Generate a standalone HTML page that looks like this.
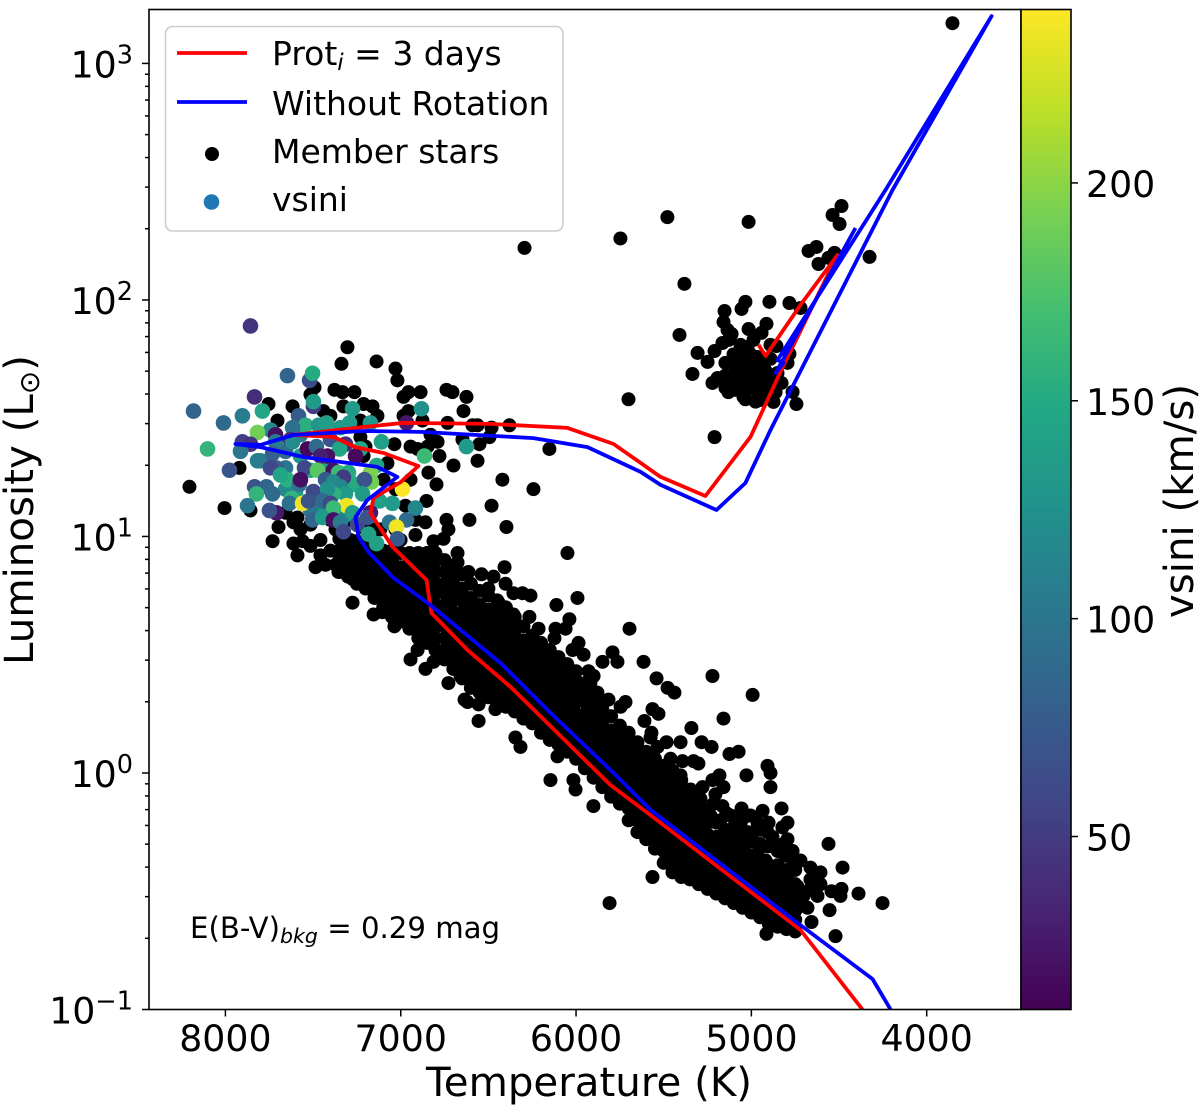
<!DOCTYPE html>
<html lang="en">
<head>
<meta charset="utf-8">
<title>HR diagram with vsini</title>
<style>
html,body{margin:0;padding:0;background:#fff;width:1200px;height:1110px;overflow:hidden}
svg{display:block;font-family:"DejaVu Sans","Liberation Sans",sans-serif;fill:#000}
</style>
</head>
<body>
<svg id="chart" xmlns="http://www.w3.org/2000/svg" width="1200" height="1110" viewBox="0 0 1200 1110">
<defs>
<clipPath id="plot-clip"><rect x="149" y="9.5" width="872" height="1000"/></clipPath>
<linearGradient id="viridis-gradient" x1="0" y1="1" x2="0" y2="0"></linearGradient>
</defs>
<g id="members" clip-path="url(#plot-clip)"></g>
<g id="vsini" clip-path="url(#plot-clip)"></g>
<g id="tracks" clip-path="url(#plot-clip)"></g>
<rect x="149" y="9.5" width="872" height="1000" fill="none" stroke="#000" stroke-width="1.6"/>
<g id="axes"></g>
<text x="589" y="1096" font-size="40.3" text-anchor="middle">Temperature (K)</text>
<text transform="translate(33,510) rotate(-90)" font-size="40.3" text-anchor="middle">Luminosity (L<tspan font-size="28" dy="6">⊙</tspan><tspan dy="-6">)</tspan></text>
<text x="190" y="938" font-size="29.2">E(B-V)<tspan font-size="20.5" font-style="italic" dy="5">bkg</tspan><tspan dy="-5"> = 0.29 mag</tspan></text>
<rect x="1021" y="9.5" width="50" height="1000" fill="url(#viridis-gradient)" stroke="#000" stroke-width="1.6"/>
<text transform="translate(1193,501) rotate(-90)" font-size="40.3" text-anchor="middle">vsini (km/s)</text>
<g>
<rect x="165.5" y="26.5" width="397.5" height="204.5" rx="7" fill="#fff" fill-opacity="0.8" stroke="#ccc" stroke-width="1.6"/>
<line x1="177" x2="247" y1="53" y2="53" stroke="#f00" stroke-width="3.8"/>
<text x="272" y="65" font-size="33">Prot<tspan font-size="23" font-style="italic" dy="5">i</tspan><tspan dy="-5"> = 3 days</tspan></text>
<line x1="177" x2="247" y1="102" y2="102" stroke="#00f" stroke-width="3.8"/>
<text x="272" y="115" font-size="33">Without Rotation</text>
<circle cx="212" cy="154" r="7" fill="#000"/>
<text x="272" y="163" font-size="33">Member stars</text>
<circle cx="211.5" cy="202" r="7.8" fill="#1f77b4"/>
<text x="272" y="211" font-size="33">vsini</text>
</g>
</svg>
<script>
const xTickValues = [8000, 7000, 6000, 5000, 4000];
const yTickDecades = [-1, 0, 1, 2, 3];
const yMinorFactors = [2, 3, 4, 5, 6, 7, 8, 9];
const colorbarTickValues = [50, 100, 150, 200];
const viridisColors = ["#440154","#482475","#414487","#355f8d","#2a788e","#21918c","#22a884","#44bf70","#7ad151","#bddf26","#fde725"];
const tempDomain = [8433, 3465];
const logLDomain = [-1, 3.228];
const vsiniDomain = [10.3, 239.8];

// Temperature (K), log10 luminosity for the rotating track
const rotatingTrack = [[4366,-1],[4720,-.664],[5615,-.156],[5804,-.051],[6374,.364],[6619,.52],[6825,.677],[6853,.816],[7047,.956],[7173,1.099],[7155,1.163],[7001,1.23],[6899,1.298],[7098,1.353],[7258,1.378],[7384,1.421],[7612,1.429],[7212,1.463],[6984,1.48],[6488,1.476],[6049,1.459],[5786,1.391],[5518,1.252],[5262,1.171],[5005,1.421],[4834,1.696],[4509,2.19],[4720,1.979],[4919,1.763],[4959,1.81]];
// Temperature (K), log10 luminosity for the non-rotating track
const noRotationTrack = [[4206,-1],[4309,-.871],[4720,-.643],[5575,-.156],[5786,0],[6146,.254],[6431,.465],[6659,.605],[6830,.71],[7041,.825],[7184,.934],[7241,.998],[7258,1.082],[7190,1.154],[7019,1.252],[7133,1.294],[7555,1.336],[7800,1.378],[7943,1.391],[7800,1.387],[7612,1.429],[7212,1.446],[6887,1.442],[6243,1.416],[5935,1.378],[5632,1.273],[5518,1.218],[5199,1.112],[5034,1.226],[4891,1.45],[4195,2.465],[3630,3.2],[4235,2.465],[4851,1.746],[4817,1.734],[4862,1.691],[4406,2.304]];

// Dense main-sequence stars: one temperature per column with its log10 luminosities
const bandTemps = [7350,7300,7250,7200,7150,7100,7050,7000,6950,6900,6850,6800,6750,6700,6650,6600,6550,6500,6450,6400,6350,6300,6250,6200,6150,6100,6050,6000,5950,5900,5850,5800,5750,5700,5650,5600,5550,5500,5450,5400,5350,5300,5250,5200,5150,5100,5050,5000,4950,4900,4850,4800,4750];
const bandLogL = [
[.85,.90,.94,.99],[.83,.87,.92,.97],[.80,.85,.90,.94,.98],[.78,.82,.87,.92,.96],[.74,.79,.84,.88,.93,.95],[.70,.75,.80,.84,.89,.94],[.66,.71,.76,.80,.85,.90,.94],[.64,.68,.73,.78,.82,.87,.93],[.61,.66,.70,.75,.80,.84,.89,.93],[.57,.62,.67,.71,.76,.81,.85,.90,.93],[.55,.60,.64,.69,.74,.78,.83,.88,.93],[.52,.57,.62,.66,.71,.76,.80,.85,.90,.92],
[.48,.52,.57,.62,.66,.71,.76,.80,.85,.90],[.44,.49,.54,.59,.63,.68,.73,.77,.82,.87],[.40,.45,.50,.54,.59,.64,.68,.73,.78,.84],[.36,.41,.46,.51,.55,.60,.65,.69,.74,.80],[.34,.38,.43,.48,.52,.57,.62,.66,.71,.77],[.32,.37,.41,.46,.51,.55,.60,.65,.69,.75],[.30,.35,.40,.44,.49,.54,.58,.63,.68,.73],[.28,.33,.38,.42,.47,.52,.56,.61,.66,.70],[.26,.30,.35,.40,.44,.49,.54,.58,.63,.66],[.23,.28,.33,.37,.42,.47,.51,.56,.62],[.21,.25,.30,.35,.39,.44,.49,.53,.58],[.17,.22,.27,.31,.36,.41,.45,.50,.55],[.14,.19,.24,.28,.33,.38,.42,.47,.52],[.12,.16,.21,.26,.30,.35,.40,.44,.49],[.09,.14,.19,.23,.28,.33,.37,.42,.46],[.06,.11,.16,.20,.25,.30,.34,.39,.43],[.02,.07,.11,.16,.21,.25,.30,.34,.38],[-.02,.03,.07,.12,.17,.21,.26,.31,.34],[-.06,-.01,.03,.08,.13,.17,.22,.27,.29],[-.10,-.05,-.01,.04,.09,.13,.18,.24],[-.13,-.08,-.03,.01,.06,.11,.15,.20],[-.20,-.15,-.10,-.05,-.01,.04,.09,.13,.17],[-.25,-.20,-.16,-.11,-.06,-.02,.03,.08,.13],[-.28,-.24,-.19,-.14,-.10,-.05,0,.05,.09],[-.32,-.27,-.23,-.18,-.13,-.09,-.04,.01,.06],[-.38,-.33,-.29,-.24,-.19,-.15,-.10,-.05,-.01,.03],[-.42,-.37,-.32,-.28,-.23,-.18,-.14,-.09,-.04,.01],[-.44,-.39,-.35,-.30,-.25,-.21,-.16,-.11,-.07,-.03],[-.45,-.41,-.36,-.31,-.27,-.22,-.17,-.13,-.08],[-.47,-.43,-.38,-.33,-.29,-.24,-.19,-.15,-.11],[-.49,-.44,-.40,-.35,-.30,-.26,-.21,-.17],[-.51,-.46,-.41,-.37,-.32,-.27,-.21],[-.53,-.48,-.44,-.39,-.34,-.29,-.24],[-.55,-.50,-.46,-.41,-.36,-.31,-.26],[-.57,-.53,-.48,-.43,-.38,-.33,-.28],[-.59,-.55,-.50,-.45,-.40,-.35,-.29],[-.61,-.57,-.52,-.47,-.42,-.37,-.30],[-.64,-.59,-.54,-.49,-.44,-.39,-.31],[-.65,-.60,-.55,-.50,-.45,-.40,-.33],[-.66,-.61,-.56,-.51,-.46,-.41,-.35],[-.67,-.62,-.57,-.52,-.47,-.41]];

// Individually resolved member stars: temperature (K), log10 luminosity
const memberStars = [[3853,3.17],[6294,2.22],[5747,2.26],[5479,2.35],[5016,2.33],[4486,2.397],[4537,2.359],[4497,2.321],[4326,2.182],[4629,2.224],[4674,2.207],[4617,2.152],[4560,2.178],[4526,2.199],[5382,2.068],[5410,1.852],[5307,1.776],[5250,1.738],[5336,1.687],[5034,1.992],[5056,1.962],[4897,1.992],[4783,1.987],[4720,1.966],[5153,1.953],[5159,1.907],[5136,1.873],[5113,1.856],[5165,1.818],[5130,1.831],[5210,1.784],[5016,1.877],[4914,1.899],[4942,1.861],[4988,1.831],[5022,1.801],[4857,1.805],[4783,1.772],[4891,1.751],[4794,1.734],[4851,1.691],[4828,1.649],[4765,1.611],[4743,1.56],[4874,1.569],[4948,1.577],[5045,1.59],[5148,1.628],[5222,1.649],[5193,1.67],[5148,1.734],[5079,1.725],[5022,1.734],[4965,1.717],[5062,1.674],[5005,1.674],[4948,1.662],[5079,1.632],[5005,1.628],[4908,1.619],[5108,1.653],[4965,1.759],[5045,1.759],[4880,1.662],[5210,1.42],[5701,1.58],
[5091,1.7],[5034,1.7],[4976,1.68],[4919,1.7],[5091,1.62],[5034,1.64],[4976,1.62],[4919,1.65],[4862,1.61],[5034,1.58],[4976,1.57],[4919,1.59],[5148,1.68],[5131,1.61],[4948,1.75],[5005,1.77],[5062,1.81],[5102,1.77],[4891,1.81],
[7304,1.8],[7338,1.73],[7138,1.74],[7030,1.71],[7019,1.66],[7754,1.56],[7617,1.55],[7703,1.49],[7492,1.63],[7515,1.6],[7378,1.62],[7332,1.61],[7264,1.61],[7212,1.56],[7161,1.55],[7327,1.55],[7441,1.53],[7401,1.51],[7230,1.49],[7133,1.51],[6956,1.61],[6887,1.61],[6984,1.59],[6739,1.62],[6705,1.61],[6625,1.59],[6642,1.53],[6956,1.53],[6984,1.51],[6876,1.49],[6733,1.48],[6591,1.47],[6562,1.47],[6482,1.46],[6380,1.47],[6494,1.42],[6551,1.39],[6648,1.41],[6152,1.37],[6830,1.43],[6790,1.4],[7230,1.42],[7201,1.38],[7036,1.39],[6944,1.38],[6904,1.37],[6847,1.38],[6779,1.34],[6699,1.3],[6562,1.32],[7076,1.31],[7212,1.34],[6842,1.27],[6796,1.22],[7098,1.24],[6944,1.24],[6420,1.24],[6243,1.2],[6853,1.15],[6482,1.13],[6608,1.07],[6397,1.04],[6859,1.06],[6739,1.07],[6728,1.03],[6049,.93],[6676,.93],[6756,.99],[6813,.98],[6802,.93],[6802,.9],[6408,.87],[6471,.83],[6539,.84],[6614,.85],[6676,.89],[6402,.8],[6500,.78],[6357,.76],[6306,.76],[6260,.75],[5992,.74],[6112,.71],
[7458,.985],[7372,1.03],[7287,.985],[7201,1.03],[7116,1.03],[7401,.94],[7315,.92],[7001,.985],[6916,1.006],[7458,.92],[7515,.96],[7572,1.03],[7429,.88],[7372,.88],[7287,.88],
[7920,1.29],[8205,1.21],[8005,1.12],[7857,1.11],[7697,1.04],[7612,1.06],[7731,.98],[7612,.97],[7560,.98],[7589,.92],[7486,.87],[7657,1.1],[7589,1.08],[7355,.85],[7275,.82],[7144,.77],[7275,.72],[7155,.67],[7104,.68],[7041,.66],[7036,.62],[6973,.7],[6950,.64],[6882,.57],[6904,.52],[6944,.48],[6802,.52],[6813,.47],[6859,.44],[6728,.38],[6659,.41],[6636,.31],[6619,.3],[6556,.29],[6460,.27],[6556,.22],[6346,.15],[6317,.11],[6146,-.03],[6015,-.03],[6003,-.07],[5901,-.14],[6106,.07],[7030,1.2],[6973,1.13],[6916,1.07],[7030,1.03],[7144,1.03],[7287,1.07],[7401,1.07],[7515,1.05],
[6038,.65],[6266,.66],[6357,.67],[6442,.72],[6117,.61],[6060,.61],[5695,.61],[6214,.61],[5986,.55],[6123,.57],[6020,.52],[5957,.5],[5792,.51],[5764,.47],[5849,.47],[5615,.47],[5929,.43],[5900,.41],[5918,.38],[5541,.4],[5478,.36],[5439,.34],[5878,.34],[5815,.31],[5718,.3],[5746,.28],[5878,.27],[5564,.27],[5530,.25],[5610,.22],[5222,.41],[4993,.33],[5159,.23],[5342,.19],[5570,.17],[5575,.15],[5484,.13],[5404,.13],[5284,.13],[5227,.11],[5125,.08],[5073,.09],[5535,.11],[5461,.06],[5393,.05],[5330,.05],[5302,.04],[4908,.03],[4891,0],[5028,-.01],[4891,-.06],[5182,-.01],[5222,-.03],[5279,-.06],[5159,-.06],[5205,-.09],[5216,-.13],[5165,-.14],[5142,-.17],[5284,-.15],[5056,-.15],[4936,-.16],[4828,-.15],[5045,-.19],[4794,-.21],[4823,-.23],[4965,-.21],[4902,-.21],[5102,-.23],[4794,-.28],[4817,-.3],[4765,-.33],[4560,-.3],[4480,-.4],[4663,-.4],[4606,-.42],[4754,-.38],[4851,-.4],[4908,-.25],[4988,-.25],[4880,-.27],[4908,-.31],[4965,-.34],[5022,-.25],[4389,-.51],[4252,-.55],[4486,-.49],[4543,-.5],[4492,-.52],[4623,-.52],[4554,-.58],[4657,-.63],[4520,-.69],[4914,-.68],[5564,-.44],[5809,-.55],[4663,-.45],[4703,-.52],[4680,-.57],[4817,-.52],[4748,-.58],[4874,-.62],[4794,-.63],[4851,-.39],[4794,-.45],[4737,-.48],
[5119,-.18],[5062,-.22],[5005,-.18],[4948,-.24],[4862,-.3],[4805,-.35],[4919,-.37],[5034,-.3],[5176,-.2],[5233,-.18],[5290,-.11],[5347,-.07],[5404,-.01],[4720,-.37],[4663,-.49],[4777,-.41],[4834,-.45],[4891,-.43],[4976,-.41],[4606,-.47],[4720,-.56]];

// Stars with measured rotation: temperature (K), log10 luminosity, vsini (km/s)
const vsiniStars = [[7572,1.34,130],[7315,1.39,40],[7515,1.28,150],[7230,1.37,145],[7657,1.36,90],[7600,1.18,140],[7458,1.11,130],[7258,1.22,150],[7657,1.2,120],[7515,1.11,100],[7315,1.09,120],[7429,1.3,140],[7572,1.43,110],[7743,1.45,120],
[7857,1.89,45],[7646,1.68,85],[7520,1.66,65],[7503,1.69,150],[7834,1.59,40],[7498,1.55,50],[7498,1.57,135],[8182,1.53,85],[8011,1.48,90],[7903,1.51,105],[7789,1.53,145],[8102,1.37,160],[7817,1.44,190],[7275,1.54,135],[7173,1.48,130],[6882,1.54,125],[7583,1.51,75],[7543,1.47,155],[7617,1.46,95],[7469,1.47,130],[7423,1.48,140],[7344,1.46,135],[7292,1.48,135],[6967,1.48,25],[7714,1.43,20],[7903,1.4,55],[7857,1.39,45],[7914,1.36,100],[7714,1.4,105],[7629,1.41,40],[7617,1.4,120],[7401,1.41,70],[7532,1.37,15],[7481,1.38,90],[7349,1.37,145],[7110,1.4,140],[6625,1.38,135],[7258,1.34,15],[7418,1.34,20],[7458,1.34,30],[6865,1.34,165],[7817,1.32,110],[7800,1.32,105],[7731,1.35,80],[7657,1.29,100],[7709,1.29,80],[7743,1.29,60],[7549,1.29,60],[7138,1.3,145],[7977,1.28,70],[7475,1.28,180],[7384,1.28,20],[7355,1.27,165],[7298,1.27,150],[7327,1.25,50],[7173,1.27,195],[7167,1.23,190],[7207,1.24,70],[7429,1.24,75],[7646,1.24,155],[7686,1.26,145],[7578,1.22,100],[7572,1.24,20],[7384,1.23,120],[7344,1.21,115],[7498,1.19,60],[7834,1.21,70],[7766,1.21,85],[7823,1.18,160],[7731,1.18,90],[7315,1.18,135],[7384,1.18,155],[7218,1.18,135],[7418,1.2,125],[6990,1.2,240],[7623,1.16,160],[7635,1.14,95],[7560,1.14,235],[7526,1.15,70],[7446,1.15,90],[7401,1.14,60],[7309,1.13,235],[7384,1.12,165],[7121,1.15,140],[7047,1.14,135],[6916,1.12,115],[7874,1.13,100],[7709,1.1,25],[7749,1.11,70],[7275,1.1,140],[7173,1.1,25],[7503,1.07,85],[7446,1.08,135],[7384,1.07,20],[7344,1.06,105],[7247,1.05,60],[7190,1.08,70],[7064,1.06,100],[6967,1.07,90],[7024,1.04,235],[7327,1.02,60],[7184,1.01,140],[7019,.99,75],[7138,.97,140]];

const NS = "http://www.w3.org/2000/svg";
const xScale = t => 149.5 + (t - tempDomain[0]) / (tempDomain[1] - tempDomain[0]) * 871;
const yScale = l => 1009.5 - (l - logLDomain[0]) / (logLDomain[1] - logLDomain[0]) * 1000;
const cbScale = v => 1009.5 - (v - vsiniDomain[0]) / (vsiniDomain[1] - vsiniDomain[0]) * 1000;

function hexToRgb(h) {
  return [parseInt(h.slice(1, 3), 16), parseInt(h.slice(3, 5), 16), parseInt(h.slice(5, 7), 16)];
}
function viridis(v) {
  const t = Math.max(0, Math.min(1, (v - vsiniDomain[0]) / (vsiniDomain[1] - vsiniDomain[0])));
  const p = t * (viridisColors.length - 1);
  const i = Math.min(Math.floor(p), viridisColors.length - 2);
  const a = hexToRgb(viridisColors[i]);
  const b = hexToRgb(viridisColors[i + 1]);
  const f = p - i;
  return "rgb(" + a.map((c, k) => Math.round(c + (b[k] - c) * f)).join(",") + ")";
}

const gradient = document.getElementById("viridis-gradient");
viridisColors.forEach((c, i) => {
  const stop = document.createElementNS(NS, "stop");
  stop.setAttribute("offset", i / (viridisColors.length - 1));
  stop.setAttribute("stop-color", c);
  gradient.appendChild(stop);
});

const membersGroup = document.getElementById("members");
function addMember(t, l) {
  const c = document.createElementNS(NS, "circle");
  c.setAttribute("cx", xScale(t));
  c.setAttribute("cy", yScale(l));
  c.setAttribute("r", 7);
  c.setAttribute("fill", "#000");
  
  
  membersGroup.appendChild(c);
}
bandTemps.forEach((t, i) => bandLogL[i].forEach(l => addMember(t, l)));
memberStars.forEach(s => addMember(s[0], s[1]));

const vsiniGroup = document.getElementById("vsini");
vsiniStars.forEach(s => {
  const c = document.createElementNS(NS, "circle");
  c.setAttribute("cx", xScale(s[0]));
  c.setAttribute("cy", yScale(s[1]));
  c.setAttribute("r", 7.8);
  c.setAttribute("fill", viridis(s[2]));
  
  
  vsiniGroup.appendChild(c);
});

const tracksGroup = document.getElementById("tracks");
function trackPoints(track) {
  return track.map(p => xScale(p[0]).toFixed(1) + "," + yScale(p[1]).toFixed(1)).join(" ");
}
const redLine = document.createElementNS(NS, "polyline");
redLine.setAttribute("points", trackPoints(rotatingTrack));
redLine.setAttribute("fill", "none");
redLine.setAttribute("stroke", "#f00");
redLine.setAttribute("stroke-width", 3.8);
redLine.setAttribute("stroke-linejoin", "round");


tracksGroup.appendChild(redLine);
const blueLine = document.createElementNS(NS, "polyline");
blueLine.setAttribute("points", trackPoints(noRotationTrack));
blueLine.setAttribute("fill", "none");
blueLine.setAttribute("stroke", "#00f");
blueLine.setAttribute("stroke-width", 3.8);
blueLine.setAttribute("stroke-linejoin", "round");


tracksGroup.appendChild(blueLine);

const axes = document.getElementById("axes");
function addTick(x1, y1, x2, y2, name) {
  const ln = document.createElementNS(NS, "line");
  ln.setAttribute("x1", x1);
  ln.setAttribute("y1", y1);
  ln.setAttribute("x2", x2);
  ln.setAttribute("y2", y2);
  ln.setAttribute("stroke", "#000");
  ln.setAttribute("stroke-width", 1.5);
  
  
  axes.appendChild(ln);
}
xTickValues.forEach(t => {
  const px = xScale(t);
  addTick(px, 1009.5, px, 1016.5, "x-tick");
  const label = document.createElementNS(NS, "text");
  label.setAttribute("x", px);
  label.setAttribute("y", 1051);
  label.setAttribute("font-size", 36.3);
  label.setAttribute("text-anchor", "middle");
  label.textContent = String(t);
  
  
  axes.appendChild(label);
});
yTickDecades.forEach(d => {
  const py = yScale(d);
  addTick(142, py, 149, py, "y-tick");
  const label = document.createElementNS(NS, "text");
  label.setAttribute("x", 133);
  label.setAttribute("y", py + 14);
  label.setAttribute("font-size", 36.3);
  label.setAttribute("text-anchor", "end");
  label.appendChild(document.createTextNode("10"));
  const sup = document.createElementNS(NS, "tspan");
  sup.setAttribute("font-size", 25.5);
  sup.setAttribute("dy", -14);
  sup.textContent = String(d).replace("-", "\u2212");
  label.appendChild(sup);
  
  
  axes.appendChild(label);
  yMinorFactors.forEach(f => {
    const l = d + Math.log10(f);
    if (l < logLDomain[1]) addTick(145, yScale(l), 149, yScale(l), "y-minor-tick");
  });
});
colorbarTickValues.forEach(v => {
  const py = cbScale(v);
  addTick(1071, py, 1078, py, "colorbar-tick");
  const label = document.createElementNS(NS, "text");
  label.setAttribute("x", 1086);
  label.setAttribute("y", py + 14);
  label.setAttribute("font-size", 36.3);
  label.textContent = String(v);
  
  
  axes.appendChild(label);
});
</script>
</body>
</html>
